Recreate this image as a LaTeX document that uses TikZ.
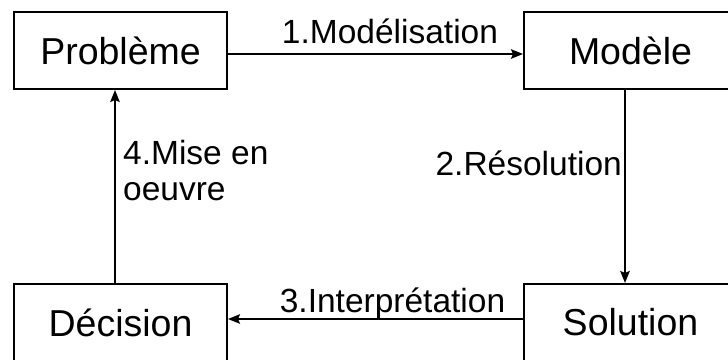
\documentclass[tikz,border=0pt]{standalone}
\usepackage{fontspec}
\setmainfont{Liberation Sans}
\usetikzlibrary{arrows.meta}
\begin{document}
\begin{tikzpicture}[x=1pt,y=-1pt,
  box/.style={draw,line width=2pt,minimum width=213pt,minimum height=77pt,inner sep=0pt,font=\fontsize{37.5}{40}\selectfont},
  lbl/.style={inner sep=0pt,font=\fontsize{33.5}{36}\selectfont},
  conn/.style={line width=1.8pt,-{Stealth[length=12pt,width=9.5pt,inset=2pt]}}]
\useasboundingbox (0,0) rectangle (728,359);
\node[box] (prob) at (120.5,50.5) {Problème};
\node[box] (mod) at (630.5,50.5) {Modèle};
\node[box] (dec) at (120.5,322.5) {Décision};
\node[box] (sol) at (630.5,322.5) {Solution};
\draw[conn] ([yshift=-3.5pt]prob.east) -- ([yshift=-3.5pt]mod.west);
\draw[conn] ([xshift=-5.5pt]mod.south) -- ([xshift=-5.5pt]sol.north);
\draw[conn] ([yshift=3.5pt]sol.west) -- ([yshift=3.5pt]dec.east);
\draw[conn] ([xshift=-5.5pt]dec.north) -- ([xshift=-5.5pt]prob.south);
\node[lbl,anchor=base] (l1) at (390,43) {1.Modélisation};
\node[lbl,anchor=base east] (l2) at (622,175) {2.Résolution};
\node[lbl,anchor=base] (l3) at (392.5,312) {3.Interprétation};
\node[lbl,anchor=base west] (l4a) at (123,164) {4.Mise en};
\node[lbl,anchor=base west] (l4b) at (123,200) {oeuvre};
\end{tikzpicture}
\end{document}
